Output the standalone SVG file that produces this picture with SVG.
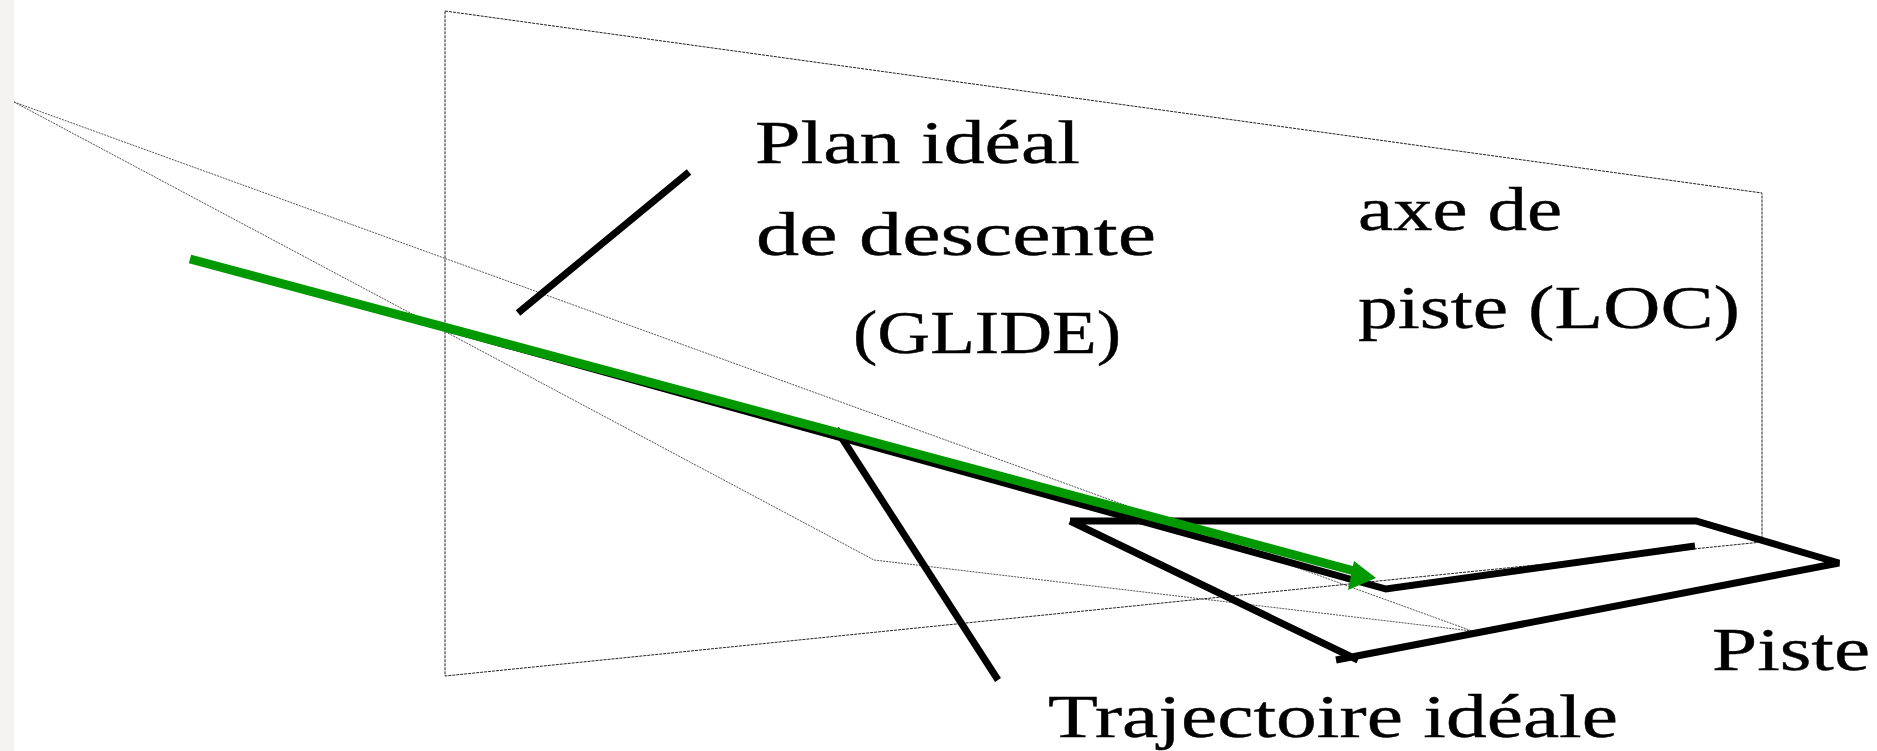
<svg xmlns="http://www.w3.org/2000/svg" width="1877" height="751" viewBox="0 0 1877 751">
<defs>
<style>
.plane{fill:none;stroke:#222;stroke-width:1;stroke-dasharray:3 1}
.thin{fill:none;stroke:#555;stroke-width:1;stroke-dasharray:2 1}
.thick{fill:none;stroke:#000;stroke-width:7}
.lbl{font-family:"Liberation Serif","Times New Roman",serif;font-size:62px;fill:#000;stroke:#000;stroke-width:.4}
</style>
</defs>
<rect width="1877" height="751" fill="#fff"/>
<rect width="14" height="751" fill="#f4f3ef"/>
<g id="connectors">
<path id="plane" class="plane" d="M445 11L1762 193V542L445 676Z"/>
<path id="glide-plane" class="thin" d="M14 102L1472 631L874 560L14 102"/>
<path id="runway" class="thick" d="M1070 521H1696L1839 563L1336 660M1070 521L1358 660"/>
<path id="trajectory" class="thick" d="M445 328L1386 589L1695 546"/>
<path id="leader-plan" class="thick" d="M518 313L689 172"/>
<path id="leader-traj" class="thick" d="M836 429L998 680"/>
<path id="approach" d="M190 259L1358 572" fill="none" stroke="#009900" stroke-width="9"/>
<path id="arrowhead" d="M1376 578L1348 590L1354 561Z" fill="#009900"/>
</g>
<g id="label-plan">
<text class="lbl" x="755" y="163" textLength="325" lengthAdjust="spacingAndGlyphs">Plan idéal</text>
<text class="lbl" x="756" y="255" textLength="400" lengthAdjust="spacingAndGlyphs">de descente</text>
<text class="lbl" x="853" y="353" textLength="268" lengthAdjust="spacingAndGlyphs">(GLIDE)</text>
</g>
<g id="label-axe">
<text class="lbl" x="1358" y="230" textLength="204" lengthAdjust="spacingAndGlyphs">axe de</text>
<text class="lbl" x="1358" y="328" textLength="382" lengthAdjust="spacingAndGlyphs">piste (LOC)</text>
</g>
<g id="label-piste"><text class="lbl" x="1712" y="670" textLength="158" lengthAdjust="spacingAndGlyphs">Piste</text></g>
<g id="label-traj"><text class="lbl" x="1048" y="737" textLength="570" lengthAdjust="spacingAndGlyphs">Trajectoire idéale</text></g>
</svg>
